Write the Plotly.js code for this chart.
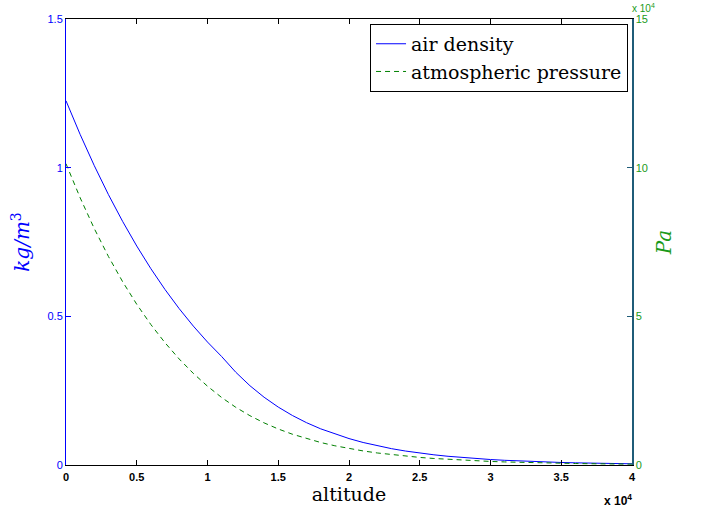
<!DOCTYPE html>
<html>
<head>
<meta charset="utf-8">
<script src="https://cdn.plot.ly/plotly-3.0.1.min.js"></script>
<style>html,body{margin:0;padding:0;background:#fff;}#chart{width:702px;height:510px;}</style>
</head>
<body>
<div id="chart"></div>
<script>
// altitude in metres
var altitude = [0,1000,2000,3000,4000,5000,6000,7000,8000,9000,10000,11000,12000,13000,14000,15000,16000,17000,18000,19000,20000,21000,22000,23000,24000,25000,26000,27000,28000,29000,30000,31000,32000,33000,34000,35000,36000,37000,38000,39000,40000];
// air density, kg/m^3
var airDensity = [1.2250,1.1117,1.0066,0.9093,0.8194,0.7364,0.6601,0.5900,0.5258,0.4671,0.4135,0.3648,0.3119,0.2666,0.2279,0.1948,0.1665,0.1423,0.1216,0.1040,0.0889,0.0757,0.0645,0.0550,0.0469,0.0401,0.0343,0.0293,0.0251,0.0215,0.0184,0.0158,0.0136,0.0116,0.0099,0.0085,0.0073,0.0062,0.0053,0.0046,0.0040];
// atmospheric pressure, Pa
var pressure = [101325,89876,79501,70121,61660,54048,47217,41105,35651,30800,26500,22700,19399,16580,14170,12111,10352,8849,7565,6467,5529,4729,4047,3467,2972,2549,2188,1880,1616,1390,1197,1031,889,767,663,575,498,433,377,328,287];

var xTickVals = [0,5000,10000,15000,20000,25000,30000,35000,40000];
var xTickText = ['0','0.5','1','1.5','2','2.5','3','3.5','4'];
var yLeftTicks = [0,0.5,1,1.5];
var yLeftText = ['0','0.5','1','1.5'];
var yRightTicks = [0,50000,100000,150000];
var yRightText = ['0','5','10','15'];

var BLUE = '#0000ff';
var GREEN = '#008000';
var GREEN_TXT = '#1a9a1a';
var SERIF = 'DejaVu Serif';
var SANS = 'Liberation Sans';

var traces = [
  {x: altitude, y: airDensity, type: 'scatter', mode: 'lines', name: 'air density',
   line: {color: BLUE, width: 1}, xaxis: 'x', yaxis: 'y'},
  {x: altitude, y: pressure, type: 'scatter', mode: 'lines', name: 'atmospheric pressure',
   line: {color: GREEN, width: 1, dash: '5px,4px'}, xaxis: 'x', yaxis: 'y2'}
];

var layout = {
  width: 702, height: 510,
  margin: {l: 66, r: 70, t: 19, b: 45, pad: 0},
  paper_bgcolor: '#ffffff', plot_bgcolor: '#ffffff',
  showlegend: true,
  legend: {x: 0.993, y: 0.989, xanchor: 'right', yanchor: 'top',
           bgcolor: '#ffffff', bordercolor: '#000000', borderwidth: 1,
           font: {family: SERIF, size: 19, color: '#000'}, tracegroupgap: 0,
           itemwidth: 30},
  xaxis: {range: [0, 40000], tickvals: xTickVals, ticktext: xTickText,
          showgrid: false, zeroline: false, showline: true, linecolor: '#000', linewidth: 1,
          mirror: 'ticks', ticks: 'inside', ticklen: 5, tickcolor: '#000', tickwidth: 1,
          ticklabelstandoff: 2,
          tickfont: {family: SANS, size: 11, color: '#000', weight: 'bold'},
          title: {text: 'altitude', font: {family: SERIF, size: 19, color: '#000'}, standoff: 4}},
  yaxis: {range: [0, 1.5], tickvals: yLeftTicks, ticktext: yLeftText,
          showgrid: false, zeroline: false, showline: true, linecolor: BLUE, linewidth: 1,
          ticks: 'inside', ticklen: 5, tickcolor: BLUE, tickwidth: 1,
          tickfont: {family: SANS, size: 11, color: BLUE},
          title: {text: '<i>kg/m</i><sup>3</sup>', font: {family: SERIF, size: 20, color: BLUE}, standoff: 12}},
  yaxis2: {range: [0, 150000], tickvals: yRightTicks, ticktext: yRightText,
           overlaying: 'y', side: 'right', anchor: 'x',
           showgrid: false, zeroline: false, showline: true, linecolor: '#1f5c78', linewidth: 1.5,
           ticks: 'inside', ticklen: 5, tickcolor: '#1f5c78', tickwidth: 1,
           tickfont: {family: SANS, size: 11, color: GREEN_TXT},
           title: {text: '<i>Pa</i>', font: {family: SERIF, size: 20, color: GREEN_TXT}, standoff: 10}},
  annotations: [
    {xref: 'paper', yref: 'paper', x: 1.0, y: 0, xanchor: 'right', yanchor: 'top', yshift: -25, xshift: 2,
     text: 'x 10<sup>4</sup>', showarrow: false,
     font: {family: SANS, size: 12, color: '#000', weight: 'bold'}},
    {xref: 'paper', yref: 'paper', x: 1.0, y: 1, xanchor: 'left', yanchor: 'bottom', xshift: -2, yshift: 3,
     text: 'x 10<sup>4</sup>', showarrow: false,
     font: {family: SANS, size: 10, color: GREEN_TXT}}
  ]
};

Plotly.newPlot('chart', traces, layout, {displayModeBar: false, staticPlot: true});
</script>
</body>
</html>
